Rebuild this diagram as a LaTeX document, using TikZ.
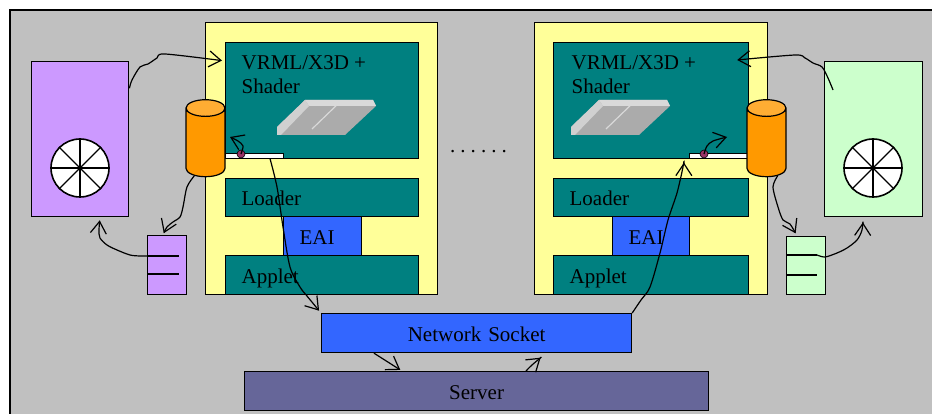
\documentclass[tikz,border=0pt]{standalone}
\usepackage{fontspec}
\setmainfont{Liberation Serif}
\usetikzlibrary{arrows.meta,shapes.geometric}

\definecolor{deskgray}{HTML}{C0C0C0}
\definecolor{paneyellow}{HTML}{FFFF99}
\definecolor{layerteal}{HTML}{008080}
\definecolor{eaiblue}{HTML}{3366FF}
\definecolor{pcviolet}{HTML}{CC99FF}
\definecolor{pcgreen}{HTML}{CCFFCC}
\definecolor{dbside}{HTML}{FF9900}
\definecolor{dbtop}{HTML}{FFAD33}
\definecolor{servergray}{HTML}{666699}
\definecolor{knob}{HTML}{993366}
\definecolor{slabface}{HTML}{ABABAB}
\definecolor{slabedge}{HTML}{D9D9D9}

\begin{document}
\begin{tikzpicture}[x=1pt, y=-1pt, line width=1.2pt,
	font=\fontsize{21pt}{24pt}\selectfont,
	>={Straight Barb[length=12pt,width=16pt]},
	box/.style={draw, anchor=north west, inner sep=0pt},
	pane/.style={box, fill=paneyellow},
	layer/.style={box, fill=layerteal, text height=16pt, text depth=0pt, inner xsep=16pt, align=left},
	plug/.style={box, fill=eaiblue, text height=16pt, text depth=0pt, inner xsep=16pt, align=left, minimum height=39pt},
	pc/.style={box, line width=1.4pt, minimum width=97pt, minimum height=155pt},
	buffer/.style={box, line width=1.4pt, minimum width=39pt, minimum height=59pt},
	wheel/.style={draw, circle, fill=white, line width=1.6pt, minimum size=58pt, inner sep=0pt},
	db/.style={draw, cylinder, shape border rotate=90, aspect=2.5, minimum width=39pt, minimum height=77pt, cylinder uses custom fill, cylinder body fill=dbside, cylinder end fill=dbtop},
	slider/.style={box, fill=white, line width=0.6pt, minimum width=58pt, minimum height=5pt},
	knob/.style={draw, circle, fill=knob, line width=0.6pt, minimum size=8pt, inner sep=0pt}]

	\useasboundingbox (0,0) rectangle (932,414);
	\fill[white] (0,0) rectangle (932,414);
	\draw[line width=2pt, fill=deskgray] (10,10) rectangle (950,430);

	% two client panes
	\node[pane, minimum width=232pt, minimum height=272pt] (lpane) at (205,22) {};
	\node[pane, minimum width=233pt, minimum height=272pt] (rpane) at (534,22) {};

	\node[layer, minimum width=193pt, minimum height=116pt] (lvrml) at (225,42) {};
	\node[layer, minimum height=38pt, text width=161pt] (lloader) at (225,178) {Loader};
	\node[plug, text width=46pt] (leai) at (283,216) {EAI};
	\node[layer, minimum height=39pt, text width=161pt] (lapplet) at (225,255) {Applet};
	\node[anchor=base west, inner sep=0pt] (lvrmla) at (241,70) {VRML/X3D +};
	\node[anchor=base west, inner sep=0pt] (lvrmlb) at (241,94) {Shader};

	\node[layer, minimum width=195pt, minimum height=116pt] (rvrml) at (553,42) {};
	\node[layer, minimum height=38pt, text width=163pt] (rloader) at (553,178) {Loader};
	\node[plug, text width=45pt] (reai) at (612,216) {EAI};
	\node[layer, minimum height=39pt, text width=163pt] (rapplet) at (553,255) {Applet};
	\node[anchor=base west, inner sep=0pt] (rvrmla) at (571,70) {VRML/X3D +};
	\node[anchor=base west, inner sep=0pt] (rvrmlb) at (571,94) {Shader};

	% grey plates
	\foreach \sx in {0,294} {
		\begin{scope}[shift={(\sx,0)}]
			\fill[slabface] (277,135) -- (277,127) -- (305,100) -- (373,100) -- (376,106) -- (345,135) -- cycle;
			\fill[slabedge] (305,100) -- (373,100) -- (376,106) -- (309,106) -- cycle;
			\fill[slabedge!80!slabface] (277,135) -- (277,127) -- (305,100) -- (309,106) -- (281,135) -- cycle;
			\draw[slabedge, line width=1.2pt] (341,101) -- (312,129);
		\end{scope}
	}

	\node[slider] (lbar) at (225,153) {};
	\node[slider, minimum width=59pt] (rbar) at (689,153) {};
	\node[knob] (ldot) at (241,154) {};
	\node[knob] (rdot) at (704,154) {};
	\coordinate (ltip) at (230,137);
	\coordinate (rtip) at (727,137);
	\path (rvrml.north east) ++(-12,18) coordinate (rin);

	\node[db] (lcyl) at (205.5,145) {};
	\node[db] (rcyl) at (766.5,145) {};

	% machines
	\node[pc, fill=pcviolet] (lpc) at (31,61) {};
	\node[pc, fill=pcgreen, minimum width=98pt] (rpc) at (824,61) {};
	\node[wheel] (lwheel) at (80,168) {};
	\node[wheel] (rwheel) at (873,168) {};
	\foreach \a in {0,45,...,315} {
		\draw[line width=1.3pt] (lwheel.center) -- (lwheel.\a);
		\draw[line width=1.3pt] (rwheel.center) -- (rwheel.\a);
	}
	\fill (lwheel.center) circle (2.2);
	\fill (rwheel.center) circle (2.2);

	\node[buffer, fill=pcviolet] (lsmall) at (147,235) {};
	\node[buffer, fill=pcgreen, minimum height=58pt] (rsmall) at (786,236) {};
	\draw (lsmall.west |- 0,256) coordinate (lline) -- ++(32,0);
	\draw (lsmall.west |- 0,274) -- ++(32,0);
	\draw (rsmall.west |- 0,255) -- ++(31,0) coordinate (rline);
	\draw (rsmall.west |- 0,275) -- ++(31,0);

	\node[anchor=base, inner sep=0pt, font={\fontsize{21pt}{24pt}\selectfont\spaceskip=3.35pt}] (gap) at (478.5,152.5) {. . . . . .};

	\node[plug, minimum width=310pt, text width=278pt, align=center, inner xsep=16pt] (socket) at (321,313) {Network Socket};
	\node[box, fill=servergray, minimum width=464pt, minimum height=39pt, text height=16pt, text depth=0pt] (server) at (244,371) {Server};

	% links
	\draw[->, shorten >=3pt] plot[smooth] coordinates {(lpc.46) (132,80) (140,67) (148,64) (157,58) (165,54) (lvrml.west |- 0,61)};
	\draw[->, shorten >=2pt] plot[smooth] coordinates {(lcyl.250) (187,187) (183,207) (180,217) (173,222) (167,227) (lsmall.north -| 163,0)};
	\draw[->, shorten >=3pt] plot[smooth] coordinates {(lline) (140,256) (130,255) (117,250) (107,245) (100,238) (99,230) (lpc.south -| 100,0)};
	\draw[->] plot[smooth] coordinates {(ldot) (243,146) (238,141) (ltip)};
	\draw[->, shorten >=3pt] plot[smooth] coordinates {(lbar.south -| 270,0) (277,187) (283,227) (290,267) (300,287) (307,296) (socket.north west)};

	\draw[->, shorten >=4pt] plot[smooth] coordinates {(socket.north east) (641,300) (650,287) (660,253) (668,220) (677,193) (683,167) (rbar.south -| 684,0)};
	\draw[->] plot[smooth] coordinates {(rdot) (707,146) (713,141) (rtip)};
	\draw[->] plot[smooth] coordinates {([xshift=9pt,yshift=-29pt]rpc.north west) (828,78) (822,67) (813,63) (805,58) (795,55) (rin)};
	\draw[->, shorten >=3pt] plot[smooth] coordinates {(rcyl.290) (773,187) (778,207) (783,220) (790,224) (rsmall.north -| 797,0)};
	\draw[->, shorten >=5pt] plot[smooth] coordinates {(rline) (825,257) (837,253) (847,248) (857,240) (862,230) (rpc.south -| 863,0)};

	\draw[->, shorten >=2pt] (socket.south -| 374,0) -- (server.north -| 402,0);
	\draw[->, shorten >=7pt] plot[smooth] coordinates {(server.north -| 526,0) (532,365) (socket.south -| 546,0)};
\end{tikzpicture}
\end{document}
